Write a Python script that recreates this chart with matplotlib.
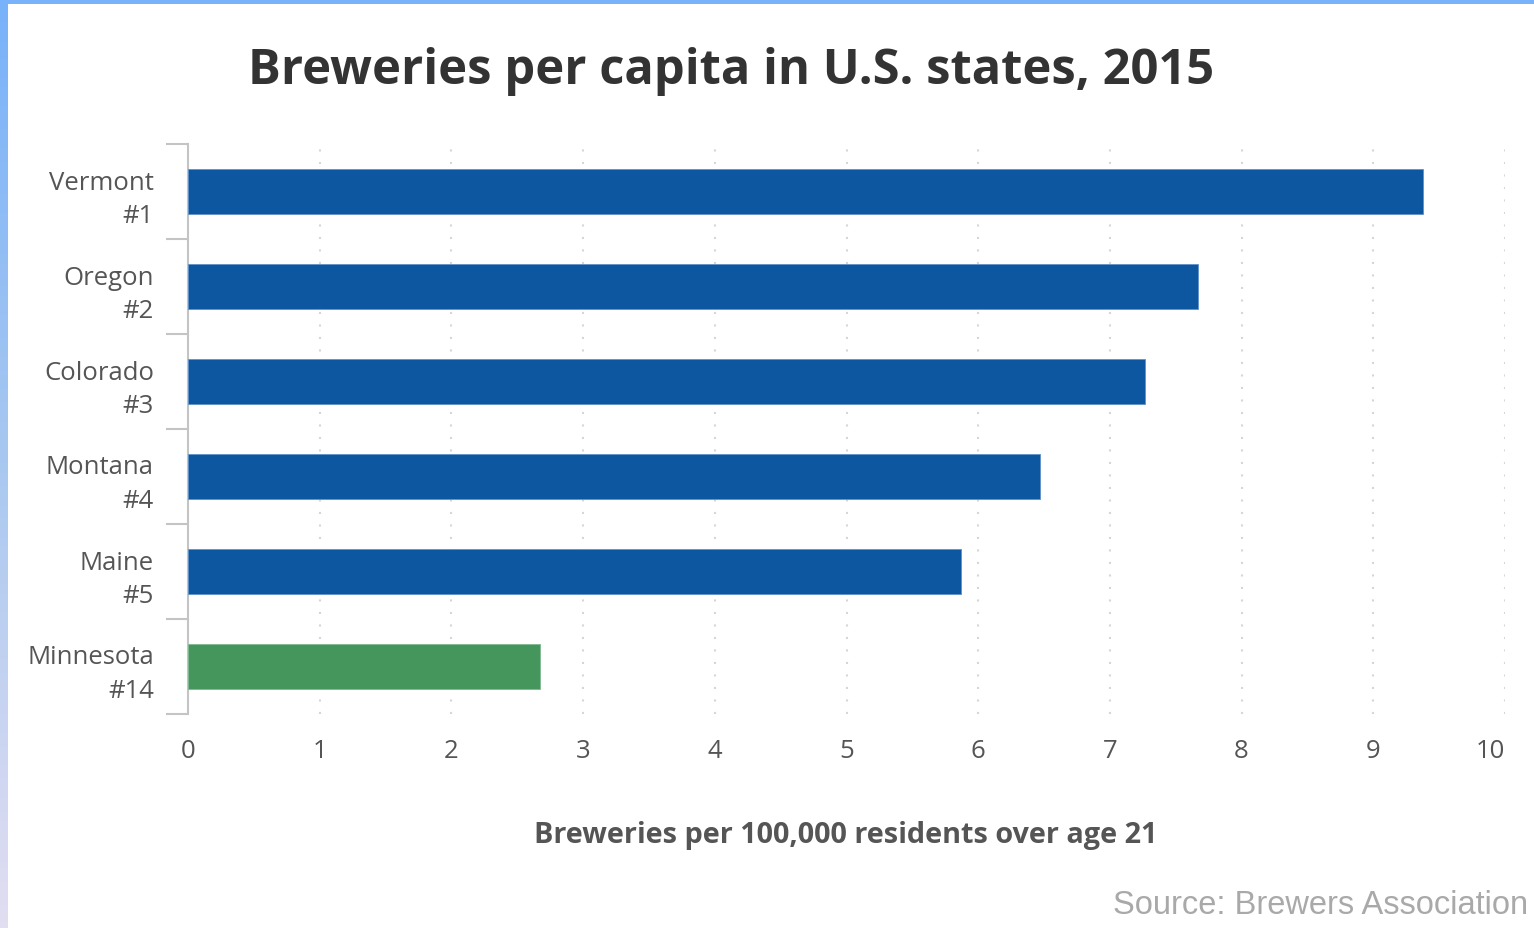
import matplotlib
matplotlib.use("Agg")
import matplotlib.pyplot as plt
import numpy as np
from matplotlib.colors import LinearSegmentedColormap

# --- données ---
states = ["Vermont", "Oregon", "Colorado", "Montana", "Maine", "Minnesota"]
ranks = ["#1", "#2", "#3", "#4", "#5", "#14"]
breweries = [9.38, 7.67, 7.27, 6.47, 5.87, 2.67]
bar_colors = ["#0d56a0", "#0d56a0", "#0d56a0", "#0d56a0", "#0d56a0", "#45965c"]
edge_colors = ["#5f92c8", "#5f92c8", "#5f92c8", "#5f92c8", "#5f92c8", "#7fb98f"]
xticks = [0, 1, 2, 3, 4, 5, 6, 7, 8, 9, 10]

W, H = 1534, 929
fig = plt.figure(figsize=(W / 100, H / 100), dpi=100)
fig.patch.set_facecolor("white")

# --- bordure bleue (gauche dégradée + haut) ---
strip = fig.add_axes([0, 0, 8 / W, 1])
grad = LinearSegmentedColormap.from_list("g", ["#78b2fa", "#a9c8f0", "#e2def2"])
strip.imshow(np.linspace(0, 1, 200).reshape(-1, 1), aspect="auto", cmap=grad)
strip.axis("off")
top = fig.add_axes([0, 1 - 5 / H, 1, 5 / H])
top.set_facecolor("#78b2fa")
top.set_xticks([]); top.set_yticks([])
for s in top.spines.values():
    s.set_visible(False)

# --- axes principaux ---
ax = fig.add_axes([188 / W, 1 - 715 / H, (1505 - 188) / W, (715 - 145) / H])
y = np.arange(len(states))
ax.barh(y, breweries, height=0.47, color=bar_colors, edgecolor=edge_colors, linewidth=0.6, zorder=3)
ax.set_ylim(len(states) - 0.5, -0.5)
ax.set_xlim(0, 10)

ax.set_yticks(y)
ax.set_yticklabels([f"{s}\n{r}" for s, r in zip(states, ranks)], ha="right",
                   fontsize=18.5, color="#555555", family="Open Sans", linespacing=1.45)
ax.tick_params(axis="y", which="major", length=0, pad=24.5)
ax.set_yticks(np.arange(-0.5, len(states)), minor=True)
ax.tick_params(axis="y", which="minor", length=16, width=1.5, color="#c4c4c4")

ax.set_xticks(xticks)
ax.set_xticklabels([str(t) for t in xticks], fontsize=18.5, color="#555555", family="Open Sans")
ax.get_xticklabels()[-1].set_ha("right")
ax.tick_params(axis="x", length=0, pad=17)

for v in xticks[1:]:
    ax.axvline(v, color="#d6d6d6", linestyle=(0, (1, 5)), linewidth=1.5, zorder=1)

for k in ["top", "right", "bottom"]:
    ax.spines[k].set_visible(False)
ax.spines["left"].set_color("#c4c4c4")
ax.spines["left"].set_linewidth(1.5)

# --- textes ---
fig.text(731 / W, 1 - 72 / H, "Breweries per capita in U.S. states, 2015", ha="center", va="center",
         fontsize=35.2, fontweight="bold", color="#333333", family="Open Sans")
fig.text(846 / W, 1 - 836 / H, "Breweries per 100,000 residents over age 21", ha="center", va="center",
         fontsize=20.8, fontweight="bold", color="#555555", family="Open Sans")
fig.text(1528 / W, 1 - 906 / H, "Source: Brewers Association", ha="right", va="center",
         fontsize=23.5, color="#a9a9a9", family="Liberation Sans")

plt.savefig("out.png", dpi=100)
